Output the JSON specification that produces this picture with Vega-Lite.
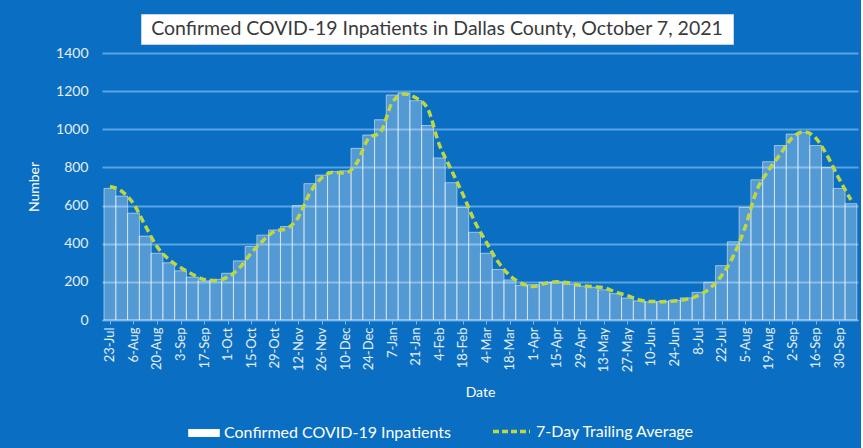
{
  "$schema": "https://vega.github.io/schema/vega-lite/v6.json",
  "background": "#0A6EC2",
  "padding": {"left": 27, "top": 13, "right": 3, "bottom": 10},
  "spacing": 1,
  "config": {"font": "Lato", "view": {"stroke": null}},
  "vconcat": [
    {
      "spacing": 0,
      "hconcat": [
        {
          "width": 37,
          "height": 30,
          "view": {"stroke": "transparent"},
          "data": {"values": []},
          "mark": "point"
        },
        {
          "width": 592,
          "height": 30,
          "view": {"fill": "white", "stroke": "#c8d4e0"},
          "data": {"values": [{"t": "Confirmed COVID-19 Inpatients in Dallas County, October 7, 2021"}]},
          "mark": {"type": "text", "fontSize": 19.5, "color": "#3a3a3a", "font": "Lato", "baseline": "middle", "align": "center"},
          "encoding": {"text": {"field": "t", "type": "nominal"}}
        }
      ]
    },
    {
      "width": 756,
      "height": 267,
      "data": {"values": [
        {"date": "2020-07-23T00:00:00", "inpatients": 690, "avg": 700},
        {"date": "2020-07-30T00:00:00", "inpatients": 650, "avg": 675},
        {"date": "2020-08-06T00:00:00", "inpatients": 560, "avg": 610},
        {"date": "2020-08-13T00:00:00", "inpatients": 440, "avg": 495},
        {"date": "2020-08-20T00:00:00", "inpatients": 350, "avg": 385},
        {"date": "2020-08-27T00:00:00", "inpatients": 300, "avg": 318},
        {"date": "2020-09-03T00:00:00", "inpatients": 258, "avg": 275},
        {"date": "2020-09-10T00:00:00", "inpatients": 225, "avg": 240},
        {"date": "2020-09-17T00:00:00", "inpatients": 205, "avg": 213},
        {"date": "2020-09-24T00:00:00", "inpatients": 212, "avg": 207},
        {"date": "2020-10-01T00:00:00", "inpatients": 245, "avg": 225},
        {"date": "2020-10-08T00:00:00", "inpatients": 310, "avg": 272},
        {"date": "2020-10-15T00:00:00", "inpatients": 385, "avg": 350},
        {"date": "2020-10-22T00:00:00", "inpatients": 445, "avg": 415},
        {"date": "2020-10-29T00:00:00", "inpatients": 472, "avg": 465},
        {"date": "2020-11-05T00:00:00", "inpatients": 490, "avg": 478},
        {"date": "2020-11-12T00:00:00", "inpatients": 600, "avg": 537},
        {"date": "2020-11-19T00:00:00", "inpatients": 715, "avg": 666},
        {"date": "2020-11-26T00:00:00", "inpatients": 760, "avg": 745},
        {"date": "2020-12-03T00:00:00", "inpatients": 778, "avg": 775},
        {"date": "2020-12-10T00:00:00", "inpatients": 782, "avg": 770},
        {"date": "2020-12-17T00:00:00", "inpatients": 900, "avg": 825},
        {"date": "2020-12-24T00:00:00", "inpatients": 970, "avg": 953},
        {"date": "2020-12-31T00:00:00", "inpatients": 1050, "avg": 985},
        {"date": "2021-01-07T00:00:00", "inpatients": 1180, "avg": 1140},
        {"date": "2021-01-14T00:00:00", "inpatients": 1190, "avg": 1185},
        {"date": "2021-01-21T00:00:00", "inpatients": 1150, "avg": 1165},
        {"date": "2021-01-28T00:00:00", "inpatients": 1020, "avg": 1110},
        {"date": "2021-02-04T00:00:00", "inpatients": 850, "avg": 920},
        {"date": "2021-02-11T00:00:00", "inpatients": 720, "avg": 790},
        {"date": "2021-02-18T00:00:00", "inpatients": 590, "avg": 660},
        {"date": "2021-02-25T00:00:00", "inpatients": 460, "avg": 518},
        {"date": "2021-03-04T00:00:00", "inpatients": 350, "avg": 408},
        {"date": "2021-03-11T00:00:00", "inpatients": 265, "avg": 305},
        {"date": "2021-03-18T00:00:00", "inpatients": 210, "avg": 233},
        {"date": "2021-03-25T00:00:00", "inpatients": 182, "avg": 192},
        {"date": "2021-04-01T00:00:00", "inpatients": 185, "avg": 176},
        {"date": "2021-04-08T00:00:00", "inpatients": 198, "avg": 192},
        {"date": "2021-04-15T00:00:00", "inpatients": 200, "avg": 200},
        {"date": "2021-04-22T00:00:00", "inpatients": 188, "avg": 195},
        {"date": "2021-04-29T00:00:00", "inpatients": 178, "avg": 182},
        {"date": "2021-05-06T00:00:00", "inpatients": 172, "avg": 175},
        {"date": "2021-05-13T00:00:00", "inpatients": 158, "avg": 170},
        {"date": "2021-05-20T00:00:00", "inpatients": 138, "avg": 145},
        {"date": "2021-05-27T00:00:00", "inpatients": 115, "avg": 128},
        {"date": "2021-06-03T00:00:00", "inpatients": 100, "avg": 105},
        {"date": "2021-06-10T00:00:00", "inpatients": 95, "avg": 97},
        {"date": "2021-06-17T00:00:00", "inpatients": 97, "avg": 96},
        {"date": "2021-06-24T00:00:00", "inpatients": 103, "avg": 100},
        {"date": "2021-07-01T00:00:00", "inpatients": 116, "avg": 108},
        {"date": "2021-07-08T00:00:00", "inpatients": 145, "avg": 128},
        {"date": "2021-07-15T00:00:00", "inpatients": 198, "avg": 165},
        {"date": "2021-07-22T00:00:00", "inpatients": 285, "avg": 232},
        {"date": "2021-07-29T00:00:00", "inpatients": 410, "avg": 335},
        {"date": "2021-08-05T00:00:00", "inpatients": 590, "avg": 485},
        {"date": "2021-08-12T00:00:00", "inpatients": 735, "avg": 680},
        {"date": "2021-08-19T00:00:00", "inpatients": 830, "avg": 785},
        {"date": "2021-08-26T00:00:00", "inpatients": 915, "avg": 870},
        {"date": "2021-09-02T00:00:00", "inpatients": 975, "avg": 955},
        {"date": "2021-09-09T00:00:00", "inpatients": 985, "avg": 987},
        {"date": "2021-09-16T00:00:00", "inpatients": 915, "avg": 955},
        {"date": "2021-09-23T00:00:00", "inpatients": 800, "avg": 860},
        {"date": "2021-09-30T00:00:00", "inpatients": 690, "avg": 740},
        {"date": "2021-10-07T00:00:00", "inpatients": 610, "avg": 630}
      ]},
      "encoding": {
        "x": {
          "field": "date", "type": "temporal", "title": "Date",
          "scale": {"domain": [{"year": 2020, "month": 7, "date": 21, "hours": 6}, {"year": 2021, "month": 10, "date": 8, "hours": 6}]},
          "axis": {
            "values": [
              {"year": 2020, "month": 7, "date": 23}, {"year": 2020, "month": 8, "date": 6}, {"year": 2020, "month": 8, "date": 20},
              {"year": 2020, "month": 9, "date": 3}, {"year": 2020, "month": 9, "date": 17}, {"year": 2020, "month": 10, "date": 1},
              {"year": 2020, "month": 10, "date": 15}, {"year": 2020, "month": 10, "date": 29}, {"year": 2020, "month": 11, "date": 12},
              {"year": 2020, "month": 11, "date": 26}, {"year": 2020, "month": 12, "date": 10}, {"year": 2020, "month": 12, "date": 24},
              {"year": 2021, "month": 1, "date": 7}, {"year": 2021, "month": 1, "date": 21}, {"year": 2021, "month": 2, "date": 4},
              {"year": 2021, "month": 2, "date": 18}, {"year": 2021, "month": 3, "date": 4}, {"year": 2021, "month": 3, "date": 18},
              {"year": 2021, "month": 4, "date": 1}, {"year": 2021, "month": 4, "date": 15}, {"year": 2021, "month": 4, "date": 29},
              {"year": 2021, "month": 5, "date": 13}, {"year": 2021, "month": 5, "date": 27}, {"year": 2021, "month": 6, "date": 10},
              {"year": 2021, "month": 6, "date": 24}, {"year": 2021, "month": 7, "date": 8}, {"year": 2021, "month": 7, "date": 22},
              {"year": 2021, "month": 8, "date": 5}, {"year": 2021, "month": 8, "date": 19}, {"year": 2021, "month": 9, "date": 2},
              {"year": 2021, "month": 9, "date": 16}, {"year": 2021, "month": 9, "date": 30}
            ],
            "format": "%-d-%b",
            "labelAngle": -90,
            "labelOverlap": false,
            "labelColor": "#E6EEF8",
            "labelFontSize": 13,
            "labelPadding": 3,
            "grid": false,
            "domainColor": "#7DB8EC",
            "tickColor": "#7DB8EC",
            "tickSize": 4,
            "titleColor": "white",
            "titleFontSize": 14,
            "titleFontWeight": "normal",
            "titlePadding": 14
          }
        }
      },
      "layer": [
        {
          "mark": {"type": "bar", "width": 11.9, "fillOpacity": 0.3, "stroke": "white", "strokeWidth": 1, "strokeOpacity": 0.5, "clip": true},
          "encoding": {
            "y": {
              "field": "inpatients", "type": "quantitative", "title": "Number",
              "scale": {"domain": [0, 1400]},
              "axis": {
                "values": [0, 200, 400, 600, 800, 1000, 1200, 1400],
                "format": "d",
                "labelOverlap": false,
                "grid": true,
                "gridColor": "#5BA3E4",
                "gridWidth": 1.8,
                "domain": false,
                "ticks": false,
                "labelColor": "#E6EEF8",
                "labelFontSize": 14,
                "labelPadding": 14,
                "titleColor": "white",
                "titleFontSize": 14,
                "titleFontWeight": "normal",
                "titlePadding": 14
              }
            },
            "fill": {
              "datum": "Confirmed COVID-19 Inpatients",
              "scale": {"range": ["white"]},
              "legend": {
                "orient": "none", "legendX": 86, "legendY": 403, "title": null,
                "symbolType": "M-1,-0.25H1V0.25H-1Z", "symbolSize": 1000,
                "symbolOpacity": 1, "symbolStrokeWidth": 0,
                "labelColor": "white", "labelFontSize": 16, "labelFont": "Lato", "labelLimit": 400
              }
            }
          }
        },
        {
          "mark": {"type": "line", "interpolate": "monotone", "strokeWidth": 3.5, "strokeDash": [7, 4], "clip": true},
          "encoding": {
            "y": {
              "field": "avg", "type": "quantitative", "title": "Number",
              "scale": {"domain": [0, 1400]},
              "axis": {
                "values": [0, 200, 400, 600, 800, 1000, 1200, 1400],
                "format": "d",
                "labelOverlap": false,
                "grid": true,
                "gridColor": "#5BA3E4",
                "gridWidth": 1.8,
                "domain": false,
                "ticks": false,
                "labelColor": "#E6EEF8",
                "labelFontSize": 14,
                "labelPadding": 14,
                "titleColor": "white",
                "titleFontSize": 14,
                "titleFontWeight": "normal",
                "titlePadding": 14
              }
            },
            "stroke": {
              "datum": "7-Day Trailing Average",
              "scale": {"range": ["#BFD73F"]},
              "legend": {
                "orient": "none", "legendX": 389, "legendY": 397, "title": null,
                "symbolType": "stroke", "symbolSize": 1369, "symbolStrokeWidth": 3.5,
                "symbolDash": [6, 3],
                "labelColor": "white", "labelFontSize": 16, "labelFont": "Lato", "labelLimit": 400
              }
            }
          }
        }
      ]
    }
  ]
}
